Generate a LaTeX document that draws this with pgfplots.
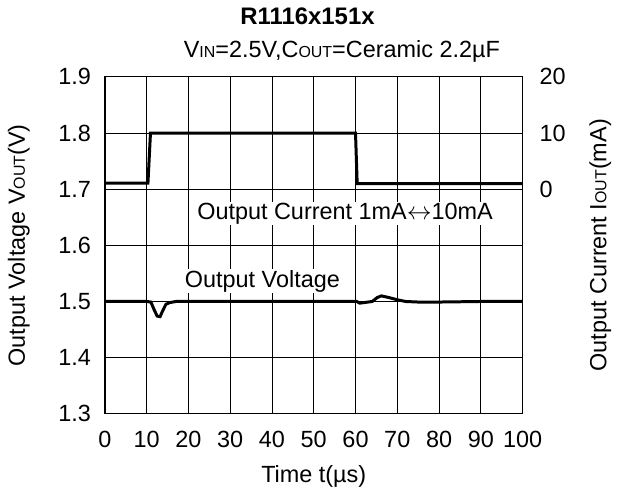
\documentclass[border=0pt]{standalone}
\usepackage{pgfplots}
\pgfplotsset{compat=1.18}
\usepackage{fontspec}
\setmainfont{Liberation Sans}

\newcommand{\sub}[1]{{\fontsize{16}{16}\selectfont #1}}

\begin{document}
\fontsize{23.5}{27}\selectfont
\begin{tikzpicture}
\pgfplotsset{
  every axis/.append style={
    scale only axis,
    width=419pt, height=338pt,
    xmin=0, xmax=100,
    major tick length=0pt,
    /pgf/number format/assume math mode=true,
    tick label style={font=\fontsize{23.5}{27}\selectfont},
    label style={font=\fontsize{23.5}{27}\selectfont},
    axis line style={line width=1pt},
  }
}
\begin{axis}[
  ymin=1.3, ymax=1.9,
  xtick={0,10,...,100},
  ytick={1.3,1.4,...,1.9},
  yticklabel style={xshift=-6pt, /pgf/number format/.cd,fixed,fixed zerofill,precision=1},
  xticklabel style={yshift=-9pt},
  grid=major,
  grid style={black, line width=0.9pt},
  xlabel={Time t(µs)},
  ylabel={Output Voltage V\sub{OUT}(V)},
  xlabel style={yshift=-2pt},
  ylabel style={yshift=13pt},
  clip=false,
]
\node[fill=white, inner sep=1pt] at (rel axis cs:0.575,0.595) {Output Current 1mA$\leftrightarrow$10mA};
\node[fill=white, inner sep=1pt] at (rel axis cs:0.377,0.393) {Output Voltage};
\addplot[black, line width=3pt] coordinates {
  (0,1.500)(5,1.500)(10,1.500)(11,1.499)(11.8,1.485)(12.5,1.474)(13.2,1.473)
  (13.8,1.483)(14.6,1.495)(15.5,1.498)(17,1.500)(20,1.500)(30,1.500)(40,1.500)
  (50,1.500)(58,1.500)(60.3,1.500)(61,1.497)(62,1.498)(64,1.500)(65.2,1.507)
  (66.2,1.510)(68,1.507)(70,1.503)(72,1.500)(75,1.499)(80,1.499)(90,1.500)(100,1.500)
};
\node at (rel axis cs:0.485,1.18) {\fontsize{24}{28}\selectfont\bfseries R1116x151x};
\node[anchor=east] at (rel axis cs:0.965,1.075) {V\sub{IN}=2.5V,C\sub{OUT}=Ceramic 2.2µF};
\end{axis}
\begin{axis}[
  ymin=-40, ymax=20,
  axis y line*=right,
  axis x line=none,
  ytick={0,10,20},
  yticklabel style={xshift=9pt},
  ylabel={Output Current I\sub{OUT}(mA)},
  ylabel style={yshift=-8pt},
]
\addplot[black, line width=3pt] coordinates {
  (0,1.1)(10.3,1.1)(10.9,10)(30,10)(60.0,10)(60.4,1.0)(80,1.0)(100,1.0)
};
\end{axis}
\end{tikzpicture}
\end{document}
